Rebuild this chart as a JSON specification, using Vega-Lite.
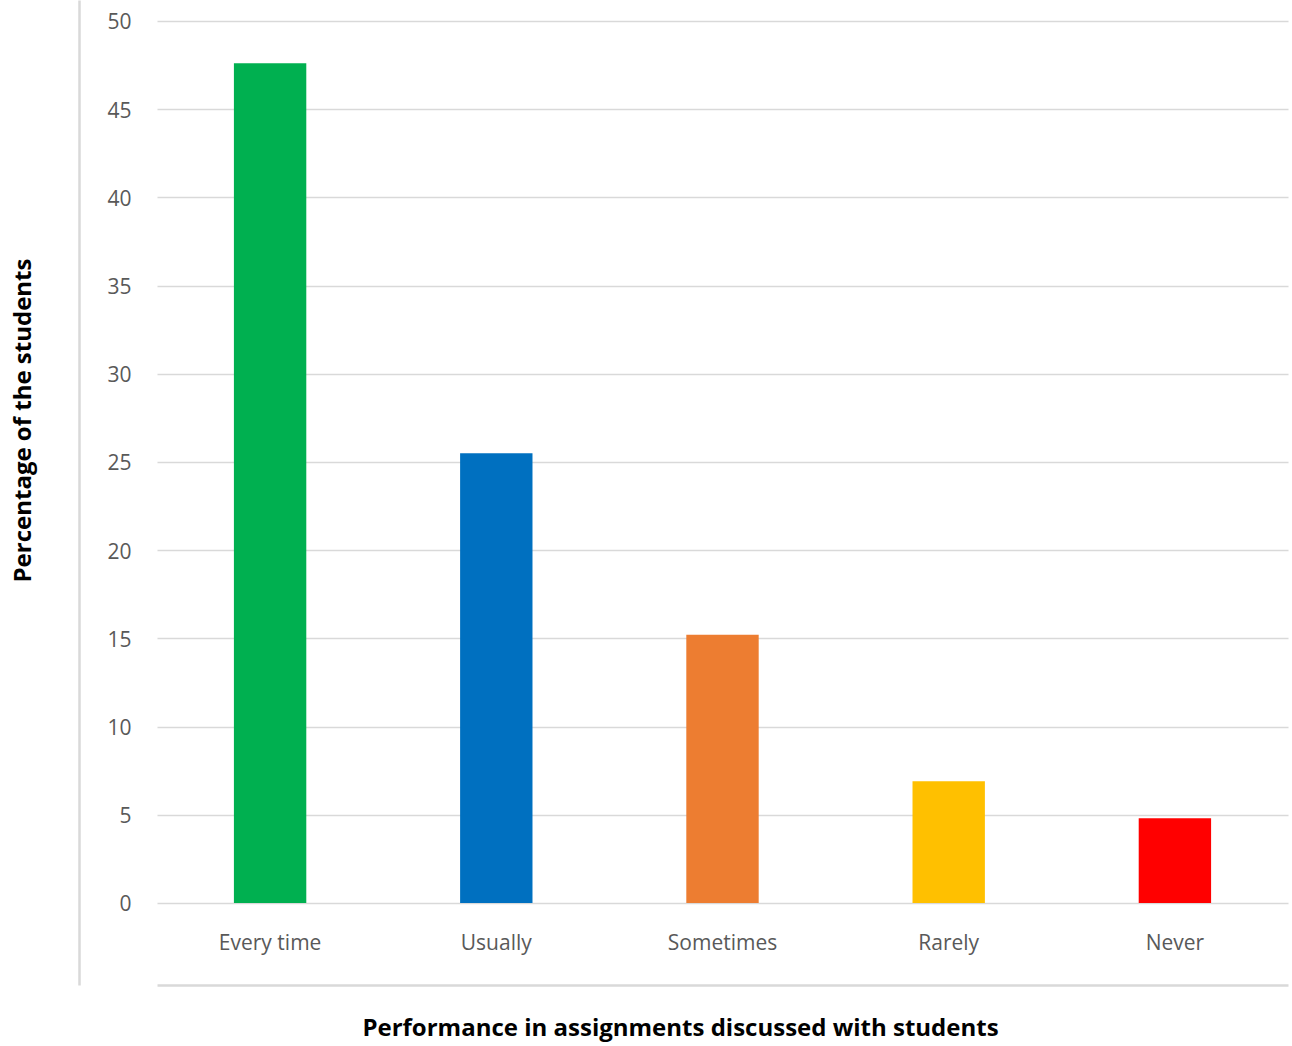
{
  "$schema": "https://vega.github.io/schema/vega-lite/v6.json",
  "autosize": {"type": "none"},
  "width": 1131,
  "height": 985,
  "padding": {"left": 157, "top": 0, "right": 4, "bottom": 61},
  "background": "white",
  "config": {
    "font": "Open Sans",
    "view": {"stroke": null}
  },
  "data": {
    "values": [
      {"category": "Every time", "value": 47.6},
      {"category": "Usually", "value": 25.5},
      {"category": "Sometimes", "value": 15.2},
      {"category": "Rarely", "value": 6.9},
      {"category": "Never", "value": 4.8}
    ]
  },
  "resolve": {"axis": {"x": "independent", "y": "independent"}},
  "layer": [
    {
      "mark": {"type": "bar"},
      "encoding": {
        "x": {
          "field": "category", "type": "nominal", "sort": null,
          "scale": {"paddingInner": 0.68, "paddingOuter": 0.34},
          "axis": {
            "orient": "bottom", "offset": -82, "domain": false, "ticks": false, "grid": false,
            "title": null, "labelAngle": 0, "labelPadding": 29,
            "labelColor": "#595959", "labelFontSize": 21, "labelFont": "Open Sans"
          }
        },
        "y": {
          "field": "value", "type": "quantitative",
          "scale": {"domain": [-4.65, 51.19], "nice": false, "zero": false},
          "axis": {
            "orient": "left", "values": [0, 5, 10, 15, 20, 25, 30, 35, 40, 45, 50],
            "domain": false, "ticks": false, "grid": true, "gridColor": "#d9d9d9", "gridWidth": 1.5,
            "title": null, "labelPadding": 26, "labelOffset": 2, "labelColor": "#595959", "labelFontSize": 21,
            "labelFont": "Open Sans"
          }
        },
        "y2": {"datum": 0},
        "color": {
          "field": "category", "type": "nominal", "legend": null,
          "scale": {
            "domain": ["Every time", "Usually", "Sometimes", "Rarely", "Never"],
            "range": ["#00B050", "#0070C0", "#ED7D31", "#FFC000", "#FF0000"]
          }
        }
      }
    },
    {
      "mark": {"type": "bar", "opacity": 0},
      "encoding": {
        "x": {
          "field": "category", "type": "nominal", "sort": null,
          "axis": {
            "orient": "bottom", "offset": 0, "domain": true, "domainColor": "#d9d9d9", "domainWidth": 2.5,
            "labels": false, "ticks": false, "grid": false,
            "title": "Performance in assignments discussed with students",
            "titleFontSize": 24, "titleFontWeight": "bold", "titleColor": "#000000", "titlePadding": 31,
            "titleX": 523
          }
        },
        "y": {
          "field": "value", "type": "quantitative",
          "axis": {
            "orient": "left", "offset": 78, "domain": true, "domainColor": "#d9d9d9", "domainWidth": 2.5,
            "labels": false, "ticks": false, "grid": false,
            "title": "Percentage of the students",
            "titleFontSize": 24, "titleFontWeight": "bold", "titleColor": "#000000", "titlePadding": 44,
            "titleY": 420
          }
        }
      }
    }
  ]
}
